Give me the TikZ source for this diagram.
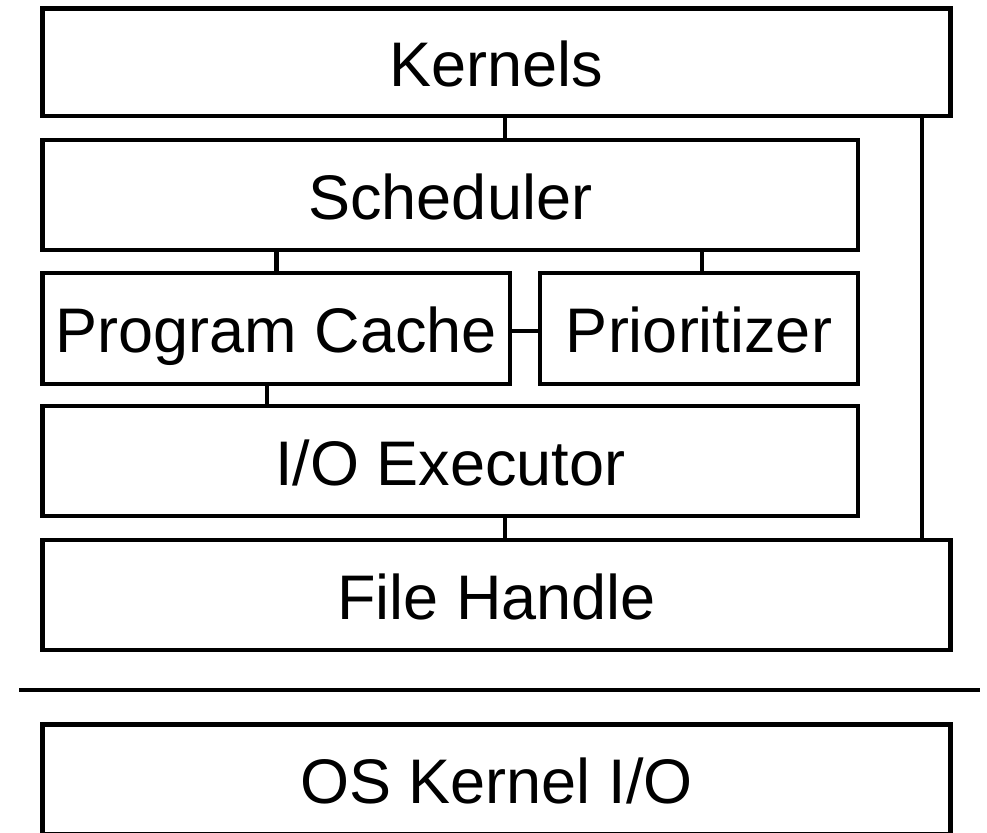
\documentclass[tikz,border=0pt]{standalone}
\usepackage{fontspec}
\setmainfont{Liberation Sans}
\begin{document}
\begin{tikzpicture}[x=1pt,y=-1pt,
  layer/.style={draw=black, line width=4.5pt, fill=white, inner sep=0pt, outer sep=0pt,
    font=\fontsize{63}{70}\selectfont, text height=48pt, text depth=0pt,
    anchor=north west},
  link/.style={draw=black, line width=4.5pt}]
\useasboundingbox (0,0) rectangle (987,832);

% stack of layers (top-left corner, size)
\node[layer, minimum width=908pt, minimum height=107.5pt] (kern) at (42.5,8.5) {Kernels};
\node[layer, minimum width=815.5pt, minimum height=110pt] (sched) at (42.5,140) {Scheduler};
\node[layer, minimum width=467.5pt, minimum height=111pt] (cache) at (42.5,273) {Program Cache};
\node[layer, minimum width=318pt, minimum height=111pt] (prio) at (540,273) {Prioritizer};
\node[layer, minimum width=815.5pt, minimum height=110pt] (exec) at (42.5,406) {I/O Executor};
\node[layer, minimum width=908pt, minimum height=110pt] (fh) at (42.5,540) {File Handle};
\node[layer, minimum width=908pt, minimum height=110pt] (os) at (42.5,724.5) {OS Kernel I/O};

% links between layers
\coordinate (xk) at (505,0);
\coordinate (xs1) at (276.5,0);
\coordinate (xs2) at (702,0);
\coordinate (xc) at (267,0);
\coordinate (xr) at (922,0);
\draw[link] (kern.south -| xk) -- (sched.north -| xk);
\draw[link] (sched.south -| xs1) -- (cache.north -| xs1);
\draw[link] (sched.south -| xs2) -- (prio.north -| xs2);
\draw[link] ([yshift=-2.5pt]cache.east) -- ([yshift=-2.5pt]prio.west);
\draw[link] (cache.south -| xc) -- (exec.north -| xc);
\draw[link] (exec.south -| xk) -- (fh.north -| xk);
\draw[link] (kern.south -| xr) -- (fh.north -| xr);

% user space / kernel space boundary
\coordinate (sepL) at (19,690);
\coordinate (sepR) at (980,690);
\draw[link] (sepL) -- (sepR);
\end{tikzpicture}
\end{document}
